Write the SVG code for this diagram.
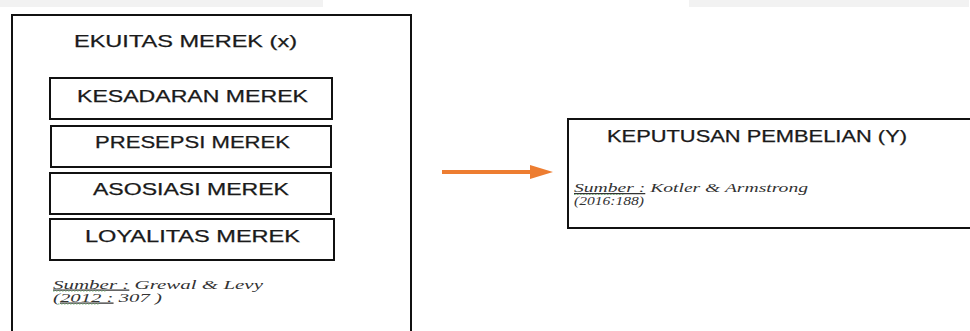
<svg xmlns="http://www.w3.org/2000/svg" width="970" height="331" viewBox="0 0 970 331">
<style>
.box{fill:#fff;stroke:#111;stroke-width:2}
.h{font-family:"Liberation Sans",Arial,sans-serif;fill:#1a1a1a;stroke:#1a1a1a;stroke-width:0.25}
.src{font-family:"Liberation Serif","Times New Roman",serif;font-style:italic;fill:#333;font-size:12.5px}
.sq{stroke:#7ab87a;stroke-width:1;stroke-dasharray:1.5 1.5}
</style>
<rect width="970" height="331" fill="#fff"/>
<rect x="0" y="0" width="323" height="7" fill="#f2f2f2"/>
<rect x="689" y="0" width="280" height="7" fill="#f2f2f2"/>
<g id="ekuitas">
<rect class="box" x="12" y="15" width="399" height="330"/>
<text class="h" x="74" y="46.5" font-size="17" textLength="223" lengthAdjust="spacingAndGlyphs">EKUITAS MEREK (x)</text>
<text class="src" x="53" y="288.5" textLength="210" lengthAdjust="spacingAndGlyphs"><tspan text-decoration="underline">Sumber :</tspan> Grewal &amp; Levy</text>
<text class="src" x="53" y="301.5" textLength="109" lengthAdjust="spacingAndGlyphs">(<tspan text-decoration="underline">2012 :</tspan> 307 )</text>
<line class="sq" x1="53" y1="291" x2="106" y2="291"/>
<line class="sq" x1="58" y1="304" x2="100" y2="304"/>
</g>
<g id="kesadaran">
<rect class="box" x="50" y="78" width="282" height="41"/>
<text class="h" x="77" y="101.5" font-size="16" textLength="231" lengthAdjust="spacingAndGlyphs">KESADARAN MEREK</text>
</g>
<g id="presepsi">
<rect class="box" x="51" y="126" width="280" height="41"/>
<text class="h" x="95" y="148" font-size="16" textLength="195" lengthAdjust="spacingAndGlyphs">PRESEPSI MEREK</text>
</g>
<g id="asosiasi">
<rect class="box" x="50" y="173" width="281" height="41"/>
<text class="h" x="93" y="195" font-size="16" textLength="196" lengthAdjust="spacingAndGlyphs">ASOSIASI MEREK</text>
</g>
<g id="loyalitas">
<rect class="box" x="50" y="219" width="284" height="41"/>
<text class="h" x="85" y="242" font-size="16" textLength="215" lengthAdjust="spacingAndGlyphs">LOYALITAS MEREK</text>
</g>
<g id="keputusan">
<rect class="box" x="568" y="119" width="420" height="109"/>
<text class="h" x="607" y="142" font-size="16" textLength="300" lengthAdjust="spacingAndGlyphs">KEPUTUSAN PEMBELIAN (Y)</text>
<text class="src" x="574" y="192" textLength="234" lengthAdjust="spacingAndGlyphs"><tspan text-decoration="underline">Sumber :</tspan> Kotler &amp; Armstrong</text>
<text class="src" x="574" y="205" textLength="70" lengthAdjust="spacingAndGlyphs">(2016:188)</text>
<line class="sq" x1="574" y1="194.5" x2="625" y2="194.5"/>
</g>
<g id="connectors">
<line x1="442" y1="172" x2="532" y2="172" stroke="#ED7D31" stroke-width="4"/>
<polygon points="530,165 553,172 530,179" fill="#ED7D31"/>
</g>
</svg>
